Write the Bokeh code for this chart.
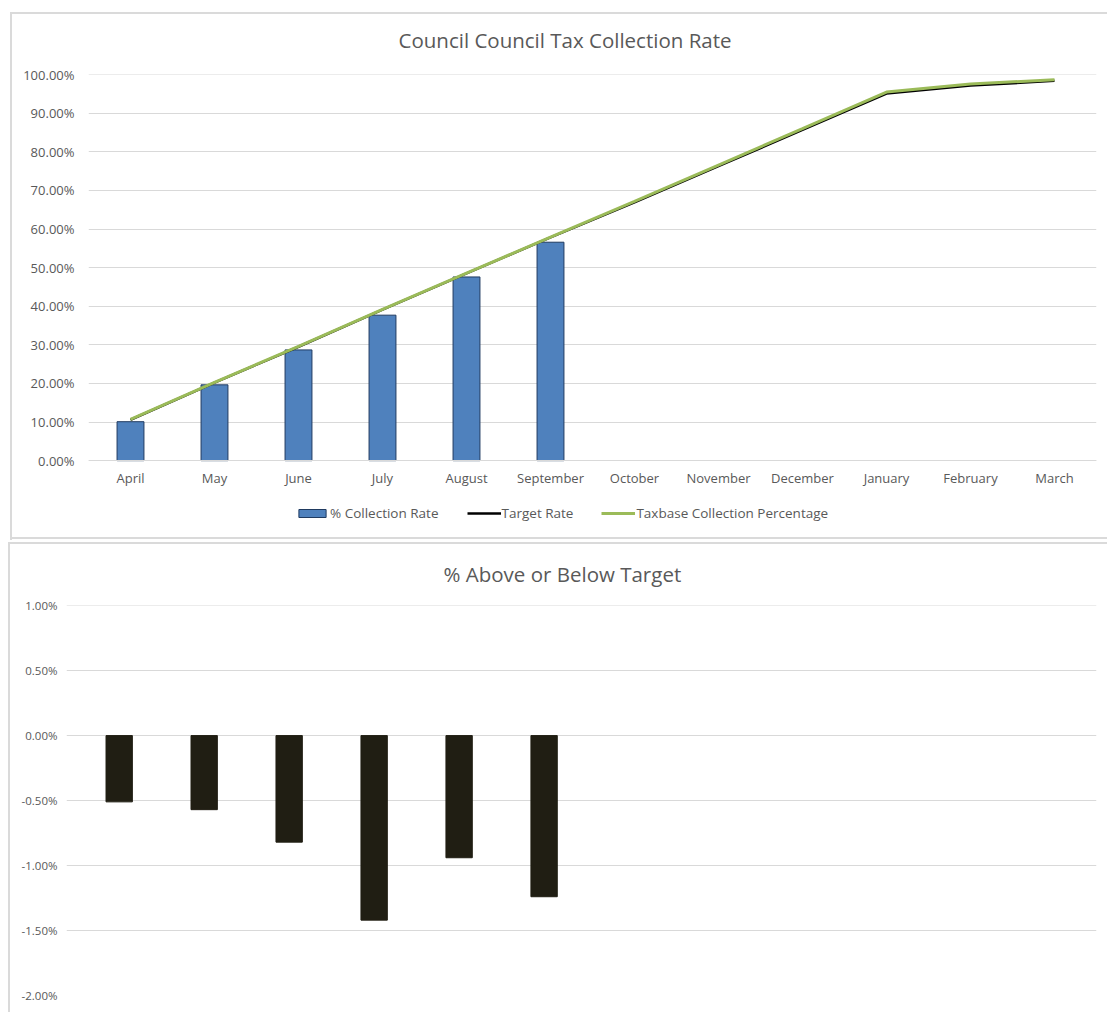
from bokeh.plotting import figure
from bokeh.models import (FactorRange, Range1d, NumeralTickFormatter, Legend, LegendItem,
                          FixedTicker)
from bokeh.embed import file_html
from bokeh.resources import INLINE
import numpy as np

months = ["April", "May", "June", "July", "August", "September", "October",
          "November", "December", "January", "February", "March"]
collection_rate = [0.101, 0.1965, 0.287, 0.377, 0.476, 0.566]
target_rate = [0.1061, 0.2022, 0.2952, 0.3912, 0.4854, 0.5784, 0.669, 0.763, 0.857, 0.951, 0.972, 0.984]
taxbase_pct = [0.107, 0.203, 0.296, 0.392, 0.486, 0.579, 0.672, 0.766, 0.860, 0.955, 0.976, 0.987]
above_below = [-0.0051, -0.0057, -0.0082, -0.0142, -0.0094, -0.0124]
top_ticks = [0.0, 0.1, 0.2, 0.3, 0.4, 0.5, 0.6, 0.7, 0.8, 0.9, 1.0]
bottom_ticks = [-0.02, -0.015, -0.01, -0.005, 0.0, 0.005, 0.01]

TEXT = "#595959"
GRID = "#D9D9D9"
FONT = "Open Sans"
EDGE = "linear-gradient(#dadada,#dadada)"

# ---------------- top chart ----------------
p = figure(x_range=FactorRange(*months), y_range=Range1d(-0.199, 1.0005),
           width=1107, height=540, output_backend="svg", toolbar_location=None,
           min_border_left=88, min_border_right=11, min_border_top=74, min_border_bottom=3)
p.outline_line_color = None
p.border_fill_alpha = 0
p.background_fill_alpha = 0
p.styles = {"background": f"{EDGE} 10px 12px / 2px 528px no-repeat, "
                          f"{EDGE} 10px 12px / 1097px 2px no-repeat, "
                          f"{EDGE} 10px 537px / 1097px 2px no-repeat, #ffffff"}
p.title.text = "Council Council Tax Collection Rate"
p.title.align = "left"
p.title.offset = 310
p.title.text_font = FONT
p.title.text_font_size = "20.5px"
p.title.text_font_style = "normal"
p.title.text_color = TEXT
p.title.standoff = 42

bars = p.vbar(x=months[:len(collection_rate)], top=collection_rate, width=0.32,
              fill_color="#4F81BD", line_color="#1F3A60", line_width=1)
l_target = p.line(months, target_rate, line_color="black", line_width=2.5)
l_tax = p.line(months, taxbase_pct, line_color="#9BBB59", line_width=3)

p.xgrid.grid_line_color = None
p.ygrid.grid_line_color = GRID
p.yaxis.ticker = FixedTicker(ticks=top_ticks)
p.ygrid.ticker = FixedTicker(ticks=top_ticks)
p.yaxis.formatter = NumeralTickFormatter(format="0.00%")
for ax in (p.xaxis[0], p.yaxis[0]):
    ax.major_tick_line_color = None
    ax.minor_tick_line_color = None
    ax.major_label_text_font = FONT
    ax.major_label_text_font_size = "13px"
    ax.major_label_text_color = TEXT
p.yaxis.axis_line_color = None
p.yaxis.major_label_standoff = 8
p.xaxis.fixed_location = 0
p.xaxis.axis_line_color = GRID
p.xaxis.major_label_standoff = 2

legend = Legend(items=[LegendItem(label="% Collection Rate", renderers=[bars]),
                       LegendItem(label="Target Rate", renderers=[l_target]),
                       LegendItem(label="Taxbase Collection Percentage", renderers=[l_tax])],
                orientation="horizontal", location=(207, 15),
                border_line_color=None, background_fill_alpha=0,
                label_text_font=FONT, label_text_font_size="13.5px", label_text_color=TEXT,
                glyph_width=34, glyph_height=10, spacing=28, padding=4, margin=0,
                label_standoff=1)
p.add_layout(legend, "center")

# ---------------- bottom chart ----------------
xpos = np.arange(len(above_below))
p2 = figure(x_range=Range1d(-0.62, 11.5), y_range=Range1d(-0.02, 0.01001),
            width=1107, height=472, output_backend="svg", toolbar_location=None,
            min_border_left=66, min_border_right=11, min_border_top=65, min_border_bottom=17)
p2.outline_line_color = None
p2.border_fill_alpha = 0
p2.background_fill_alpha = 0
p2.styles = {"background": f"{EDGE} 8px 2px / 2px 470px no-repeat, "
                           f"{EDGE} 8px 2px / 1099px 2px no-repeat, #ffffff"}
p2.title.text = "% Above or Below Target"
p2.title.align = "left"
p2.title.offset = 377
p2.title.text_font = FONT
p2.title.text_font_size = "20.5px"
p2.title.text_font_style = "normal"
p2.title.text_color = TEXT
p2.title.standoff = 35

p2.vbar(x=xpos, top=0, bottom=above_below, width=0.31, fill_color="#201E13", line_color="#201E13")
p2.xgrid.grid_line_color = None
p2.ygrid.grid_line_color = GRID
p2.xaxis.visible = False
p2.yaxis.ticker = FixedTicker(ticks=bottom_ticks)
p2.ygrid.ticker = FixedTicker(ticks=bottom_ticks)
p2.yaxis.formatter = NumeralTickFormatter(format="0.00%")
p2.yaxis.axis_line_color = None
p2.yaxis.major_tick_line_color = None
p2.yaxis.minor_tick_line_color = None
p2.yaxis.major_label_text_font = FONT
p2.yaxis.major_label_text_font_size = "11.5px"
p2.yaxis.major_label_text_color = TEXT
p2.yaxis.major_label_standoff = 3

open("out.html", "w").write(file_html([p, p2], INLINE))
